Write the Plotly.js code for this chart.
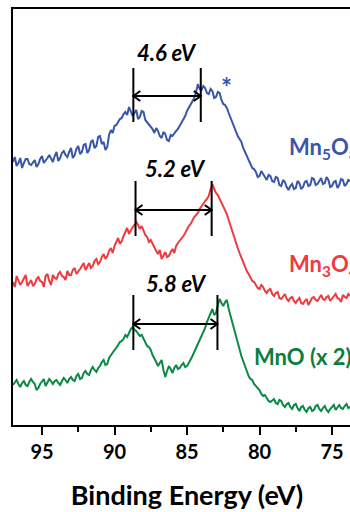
<!DOCTYPE html>
<html>
<head>
<meta charset="utf-8">
<script src="https://cdn.plot.ly/plotly-3.0.1.min.js"></script>
<style>
  html, body { margin: 0; padding: 0; overflow: hidden; background: #fff; width: 350px; height: 512px; }
  #chart { width: 380px; height: 512px; }
</style>
</head>
<body>
<div id="chart"></div>
<script>
// Binding energy grid (eV)
const energy = [
  97,96.875,96.75,96.625,96.5,96.375,96.25,96.125,
  96,95.875,95.75,95.625,95.5,95.375,95.25,95.125,
  95,94.875,94.75,94.625,94.5,94.375,94.25,94.125,
  94,93.875,93.75,93.625,93.5,93.375,93.25,93.125,
  93,92.875,92.75,92.625,92.5,92.375,92.25,92.125,
  92,91.875,91.75,91.625,91.5,91.375,91.25,91.125,
  91,90.875,90.75,90.625,90.5,90.375,90.25,90.125,
  90,89.875,89.75,89.625,89.5,89.375,89.25,89.125,
  89,88.875,88.75,88.625,88.5,88.375,88.25,88.125,
  88,87.875,87.75,87.625,87.5,87.375,87.25,87.125,
  87,86.875,86.75,86.625,86.5,86.375,86.25,86.125,
  86,85.875,85.75,85.625,85.5,85.375,85.25,85.125,
  85,84.875,84.75,84.625,84.5,84.375,84.25,84.125,
  84,83.875,83.75,83.625,83.5,83.375,83.25,83.125,
  83,82.875,82.75,82.625,82.5,82.375,82.25,82.125,
  82,81.875,81.75,81.625,81.5,81.375,81.25,81.125,
  81,80.875,80.75,80.625,80.5,80.375,80.25,80.125,
  80,79.875,79.75,79.625,79.5,79.375,79.25,79.125,
  79,78.875,78.75,78.625,78.5,78.375,78.25,78.125,
  78,77.875,77.75,77.625,77.5,77.375,77.25,77.125,
  77,76.875,76.75,76.625,76.5,76.375,76.25,76.125,
  76,75.875,75.75,75.625,75.5,75.375,75.25,75.125,
  75,74.875,74.75,74.625,74.5,74.375,74.25,74.125,
  74,73.875,73.75];

// Intensities (a.u., vertically offset spectra)
const mn5o8 = [
  263,268,259,262,267,257,262,266,266,261,260,263,265,258,261,266,269,262,264,267,
  270,266,263,269,273,264,267,272,274,270,268,273,277,267,270,276,279,271,273,280,
  281,272,275,283,285,277,279,288,289,281,283,275,278,290,295,292,299,300,303,306,
  307,311,313,310,318,313,309,312,315,306,308,314,313,305,303,300,298,296,292,297,
  294,289,287,293,291,285,284,290,289,292,294,296,299,302,305,309,314,317,321,324,
  327,333,341,336,335,339,337,332,331,336,334,327,328,333,332,325,321,320,317,312,
  307,302,297,294,289,286,283,277,273,269,265,260,257,256,253,248,249,254,251,247,
  245,250,249,244,243,248,247,240,239,245,243,238,235,239,241,236,237,244,242,236,
  238,243,244,239,240,247,246,240,241,244,247,241,242,248,245,238,239,243,244,237,
  240,246,245,239,241,245,244];
const mn3o4 = [
  143,138,149,145,140,143,146,150,139,142,145,139,141,146,148,144,143,138,149,151,
  144,140,150,147,146,151,153,149,148,145,154,150,150,155,157,151,153,156,159,162,
  155,158,162,157,159,164,166,161,163,168,171,166,169,174,177,172,179,183,187,181,
  184,189,193,197,191,195,198,200,203,200,196,199,194,190,188,183,185,181,177,174,
  171,175,166,170,173,168,169,173,176,172,179,182,184,187,189,192,196,199,201,205,
  208,210,212,216,219,222,224,226,229,236,241,236,232,230,226,222,219,215,211,205,
  199,194,189,183,177,172,167,162,157,154,151,147,144,143,140,137,136,140,138,134,
  132,135,136,131,129,132,133,127,126,129,131,126,124,127,128,124,122,125,127,122,
  121,124,126,120,123,127,128,125,124,127,130,126,125,128,129,124,126,129,131,127,
  126,123,130,128,127,131,129];
const mno = [
  40,43,45,41,38,42,44,40,39,43,46,43,41,35,37,41,43,46,39,42,
  46,44,41,44,45,42,40,44,47,45,42,46,48,45,44,49,51,46,47,52,
  54,51,50,55,58,55,53,57,59,63,65,60,61,67,70,73,75,77,80,83,
  84,86,90,88,92,96,98,95,94,92,89,90,86,82,79,78,75,70,67,63,
  59,62,65,55,48,54,59,56,52,57,60,56,57,60,62,58,59,62,65,69,
  73,77,81,85,89,93,97,103,108,112,116,110,112,120,126,122,119,123,125,116,
  109,102,95,88,81,75,69,64,59,53,49,46,45,41,39,37,35,31,29,30,
  27,24,23,25,26,22,21,25,24,20,18,21,22,18,16,20,21,17,14,18,
  19,15,13,17,18,14,15,19,20,16,14,17,19,15,13,16,18,20,15,17,
  20,17,16,19,21,17,18];

const seriesNames = ['Mn<sub>5</sub>O<sub>8</sub>', 'Mn<sub>3</sub>O<sub>4</sub>', 'MnO (x 2)'];
const splitLabels = ['4.6 eV', '5.2 eV', '5.8 eV'];
// satellite / main peak positions (eV)
const peakLeft = [88.7, 88.55, 88.7];
const peakRight = [84.05, 83.3, 82.9];
const tickVals = [95, 90, 85, 80, 75];

const colors = ['#3A56A8', '#EF3A40', '#0C8A45'];
const labelColors = ['#3A56A8', '#EF3A40', '#0B7D3F'];
const fontFam = 'Lato, "Open Sans", sans-serif';

const traces = [mn5o8, mn3o4, mno].map((v, i) => ({
  x: energy, y: v, type: 'scatter', mode: 'lines',
  line: { color: colors[i], width: 2 }, hoverinfo: 'skip', showlegend: false
}));

// marker bar geometry (y in data units) for each spectrum
const barLow = [303, 189, 75];
const barHigh = [357, 244, 130];
const arrowY = [329, 215, 101];
const labelY = [373, 257, 142];
const labelX = [86.35, 85.8, 85.75];

const shapes = [];
const annotations = [];
const headDx = 0.48, headDy = 5;
for (let i = 0; i < 3; i++) {
  [peakLeft[i], peakRight[i]].forEach(xv => shapes.push({
    type: 'line', xref: 'x', yref: 'y', x0: xv, x1: xv, y0: barLow[i], y1: barHigh[i],
    line: { color: '#000', width: 2 }
  }));
  shapes.push({ type: 'line', xref: 'x', yref: 'y', x0: peakLeft[i], x1: peakRight[i], y0: arrowY[i], y1: arrowY[i],
    line: { color: '#000', width: 2 } });
  const L = peakLeft[i], R = peakRight[i], y = arrowY[i];
  shapes.push({ type: 'path', xref: 'x', yref: 'y',
    path: `M ${L - headDx} ${y + headDy} L ${L} ${y} L ${L - headDx} ${y - headDy}`,
    line: { color: '#000', width: 2 } });
  shapes.push({ type: 'path', xref: 'x', yref: 'y',
    path: `M ${R + headDx} ${y + headDy} L ${R} ${y} L ${R + headDx} ${y - headDy}`,
    line: { color: '#000', width: 2 } });
  annotations.push({ x: labelX[i], y: labelY[i], xref: 'x', yref: 'y', showarrow: false,
    text: '<b><i>' + splitLabels[i] + '</i></b>',
    font: { family: fontFam, size: 22, color: '#000' } });
}
const nameX = [78.1, 78.1, 80.5];
const nameY = [277, 160, 69];
for (let i = 0; i < 3; i++) {
  annotations.push({ x: nameX[i], y: nameY[i], xref: 'x', yref: 'y', xanchor: 'left', showarrow: false,
    text: '<b>' + seriesNames[i] + '</b>',
    font: { family: fontFam, size: 22, color: labelColors[i] } });
}
annotations.push({ x: 82.27, y: 338, xref: 'x', yref: 'y', showarrow: false, text: '<b>*</b>',
  font: { family: fontFam, size: 26, color: colors[0] } });

const layout = {
  width: 380, height: 512,
  margin: { l: 13, r: 19, t: 9, b: 87 },
  paper_bgcolor: '#fff', plot_bgcolor: '#fff',
  showlegend: false,
  xaxis: {
    range: [97, 73], showgrid: false, zeroline: false,
    showline: true, mirror: true, linecolor: '#000', linewidth: 2,
    ticks: 'outside', ticklen: 8, tickwidth: 2, tickcolor: '#000',
    tickvals: tickVals, ticktext: tickVals.map(v => '<b>' + v + '</b>'),
    tickfont: { family: fontFam, size: 20, color: '#000' },
    minor: { dtick: 2.5, tick0: 0, ticks: 'outside', ticklen: 5, tickwidth: 2, tickcolor: '#000', showgrid: false },
    title: { text: '<b>Binding Energy (eV)</b>', font: { family: fontFam, size: 27, color: '#000' }, standoff: 24 }
  },
  yaxis: {
    range: [0, 416], showgrid: false, zeroline: false, showticklabels: false, ticks: '',
    showline: true, mirror: true, linecolor: '#000', linewidth: 2
  },
  shapes: shapes,
  annotations: annotations
};

Plotly.newPlot('chart', traces, layout, { displayModeBar: false, staticPlot: true });
</script>
</body>
</html>
